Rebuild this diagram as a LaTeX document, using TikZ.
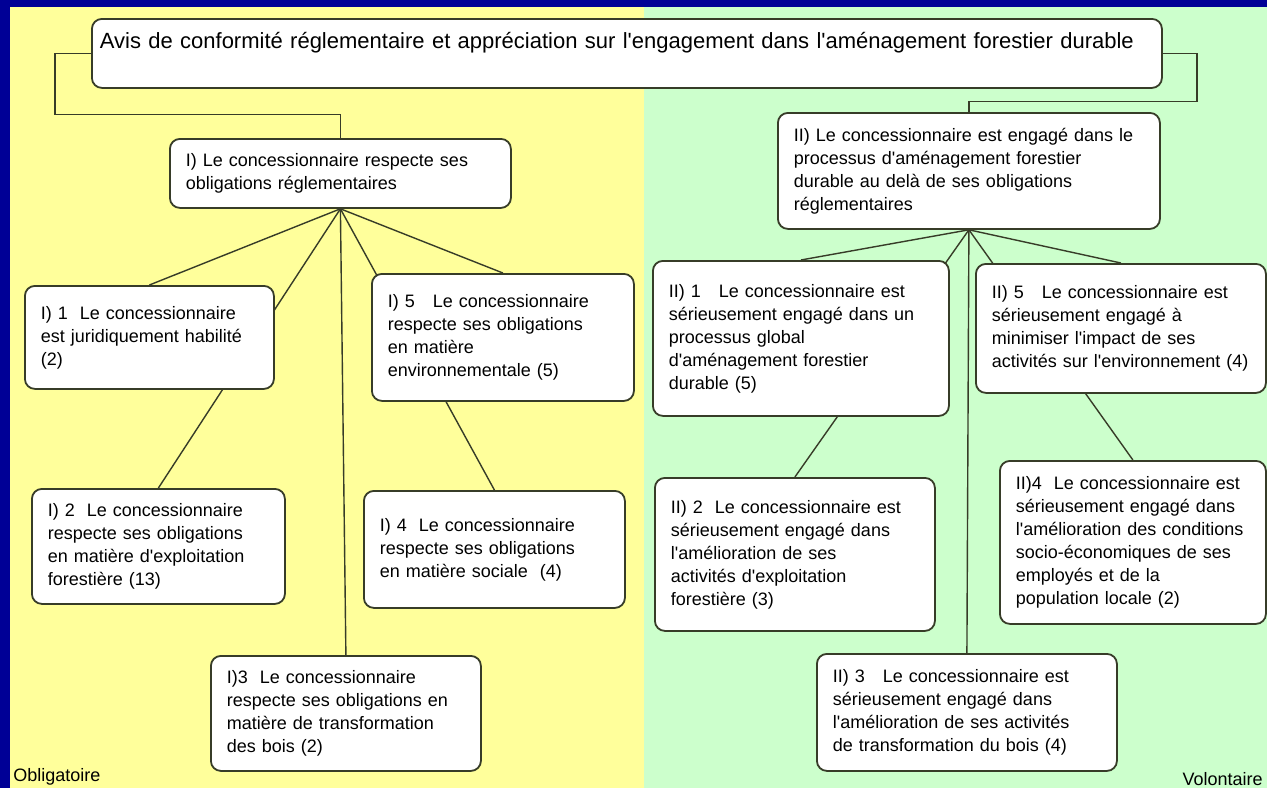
\documentclass[tikz,border=0pt]{standalone}
\usepackage{fontspec}
\setmainfont{Liberation Sans}[Ligatures=TeXOff]
\usetikzlibrary{backgrounds}
\definecolor{frameblue}{RGB}{0,0,150}
\definecolor{oblyellow}{RGB}{255,255,155}
\definecolor{volgreen}{RGB}{204,255,204}
\definecolor{linkgrey}{RGB}{55,60,40}
\tikzset{
  critbox/.style = {draw = linkgrey, line width = 0.9pt, fill = white, rounded corners = 5pt,
    anchor = north west, align = left, inner xsep = 8pt, inner ysep = 2pt,
    font = \fontsize{9}{11.5}\selectfont},
  link/.style = {draw = linkgrey, line width = 0.7pt},
  zonelabel/.style = {inner sep = 1pt, font = \fontsize{9}{11}\selectfont}
}
\begin{document}
\begin{tikzpicture}[x = 0.5pt, y = -0.5pt]
                \useasboundingbox (0,0) rectangle (1267,788);
                \begin{pgfonlayer}{background}
                    \fill[frameblue] (0,0) rectangle (1267,788);
                    \fill[oblyellow] (10,7) rectangle (644,788);
                    \fill[volgreen] (644,7) rectangle (1267,788);
                \end{pgfonlayer}
                \node[critbox, inner xsep = 4pt, text width = 527pt, minimum height = 34.5pt, text height = 8pt,
                    text depth = 13pt, font = \fontsize{11}{13}\selectfont] (avis) at (91,18)
                    {Avis de conformité réglementaire et appréciation sur l'engagement dans l'aménagement forestier durable};
                \node[critbox, text width = 154.5pt, minimum height = 34.5pt] (oblig) at (169,138)
                    {I) Le concessionnaire respecte ses\\obligations réglementaires};
                \node[critbox, text width = 175pt, minimum height = 58pt] (volon) at (777,112)
                    {II) Le concessionnaire est engagé dans le\\processus d'aménagement forestier\\durable au delà de ses obligations\\réglementaires};
                \begin{scope}
                    \node[critbox, text width = 108.5pt, minimum height = 51.5pt] (i1) at (24,285)
                        {I) 1~~Le concessionnaire\\est juridiquement habilité\\(2)};
                    \node[critbox, text width = 110.5pt, minimum height = 57.5pt] (i2) at (31,488)
                        {I) 2~~Le concessionnaire\\respecte ses obligations\\en matière d'exploitation\\forestière (13)};
                    \node[critbox, text width = 119pt, minimum height = 57.5pt] (i3) at (210,655)
                        {I)3~~Le concessionnaire\\respecte ses obligations en\\matière de transformation\\des bois (2)};
                    \node[critbox, text width = 114.5pt, minimum height = 58.5pt] (i4) at (363,490)
                        {I) 4~~Le concessionnaire\\respecte ses obligations\\en matière sociale~~(4)};
                    \node[critbox, text width = 115pt, minimum height = 63.5pt] (i5) at (371,273)
                        {I) 5~~~Le concessionnaire\\respecte ses obligations\\en matière\\environnementale (5)};
                \end{scope}
                \begin{scope}
                    \node[critbox, text width = 132pt, minimum height = 77.5pt] (ii1) at (652,260)
                        {II) 1~~~Le concessionnaire est\\sérieusement engagé dans un\\processus global\\d'aménagement forestier\\durable (5)};
                    \node[critbox, text width = 124pt, minimum height = 76.5pt] (ii2) at (654,477)
                        {II) 2~~Le concessionnaire est\\sérieusement engagé dans\\l'amélioration de ses\\activités d'exploitation\\forestière (3)};
                    \node[critbox, text width = 134pt, minimum height = 58.5pt] (ii3) at (816,653)
                        {II) 3~~~Le concessionnaire est\\sérieusement engagé dans\\l'amélioration de ses activités\\de transformation du bois (4)};
                    \node[critbox, text width = 117pt, minimum height = 81.5pt] (ii4) at (999,460)
                        {II)4~~Le concessionnaire est\\sérieusement engagé dans\\l'amélioration des conditions\\socio-économiques de ses\\employés et de la\\population locale (2)};
                    \node[critbox, text width = 129pt, minimum height = 64.5pt] (ii5) at (975,263)
                        {II) 5~~~Le concessionnaire est\\sérieusement engagé à\\minimiser l'impact de ses\\activités sur l'environnement (4)};
                \end{scope}
                \node[zonelabel, anchor = south west] (obl) at (11,788) {Obligatoire};
                \node[zonelabel, anchor = south east] (vol) at (1265,788) {Volontaire};
                \begin{pgfonlayer}{background}
                    \draw[link] (avis.west) -- ++(-36,0) -- ++(0,61) -| (oblig.north);
                    \draw[link] (avis.east) -- ++(34,0) -- ++(0,48) -| (volon.north);
                    \foreach \child in {i1,i2,i3,i4,i5}
                        \draw[link] (oblig.south) -- (\child.north);
                    \foreach \child in {ii1,ii2,ii3,ii4,ii5}
                        \draw[link] (volon.south) -- (\child.north);
                \end{pgfonlayer}
            \end{tikzpicture}
\end{document}
